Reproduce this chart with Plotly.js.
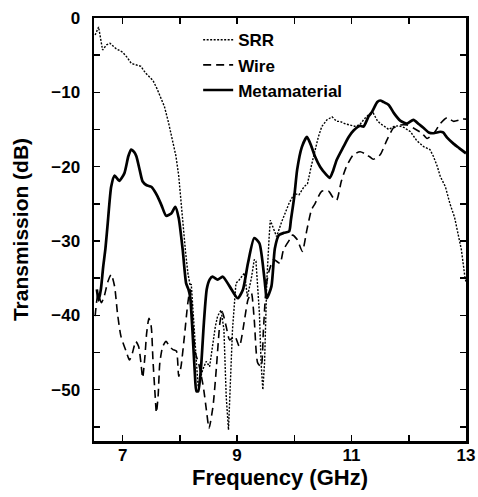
<!DOCTYPE html>
<html>
<head>
<meta charset="utf-8">
<script src="https://cdn.plot.ly/plotly-3.0.1.min.js"></script>
<style>html,body{margin:0;padding:0;background:#fff;}#chart{width:478px;height:497px;}</style>
</head>
<body>
<div id="chart"></div>
<script>
// ---- data ----
const seriesNames = ["SRR", "Wire", "Metamaterial"];

const srrFreq = [6.52,6.58,6.65,6.72,6.78,6.88,7.0,7.08,7.15,7.25,7.32,7.4,7.47,7.53,7.6,7.66,7.73,7.8,7.87,7.93,7.98,8.05,8.1,8.14,8.18,8.2,8.23,8.26,8.29,8.32,8.36,8.4,8.46,8.52,8.57,8.62,8.66,8.72,8.77,8.81,8.85,8.89,8.92,8.98,9.04,9.13,9.18,9.25,9.3,9.33,9.39,9.42,9.45,9.48,9.52,9.56,9.58,9.63,9.69,9.78,9.85,9.91,10.0,10.08,10.17,10.23,10.3,10.36,10.42,10.48,10.57,10.66,10.74,10.8,10.88,10.97,11.07,11.15,11.22,11.3,11.38,11.45,11.5,11.58,11.65,11.74,11.82,11.91,12.03,12.14,12.26,12.37,12.43,12.5,12.55,12.64,12.72,12.8,12.86,12.92,12.98,13.0];
const srrDb = [-2.3,-1.2,-4.3,-3.6,-3.4,-4.1,-4.6,-5.3,-6.1,-6.3,-6.5,-7.4,-8.0,-8.4,-9.5,-10.6,-11.9,-14.0,-16.2,-18.5,-21.2,-27.6,-31.5,-34.3,-36.0,-35.8,-39.7,-43.0,-46.4,-49.6,-48.5,-47.3,-46.2,-46.9,-44.2,-41.5,-40.1,-39.3,-41.9,-50.9,-55.4,-48.7,-41.9,-35.7,-35.2,-34.3,-37.5,-35.0,-32.5,-32.7,-39.7,-46.4,-50.0,-46.4,-35.2,-29.5,-27.2,-28.2,-29.4,-27.4,-26.0,-24.9,-23.6,-23.8,-22.7,-22.3,-19.8,-17.8,-16.0,-14.6,-13.7,-13.3,-13.9,-13.9,-14.2,-14.4,-14.6,-14.3,-13.6,-13.0,-12.8,-13.8,-14.2,-14.6,-15.0,-14.6,-14.5,-14.7,-15.3,-16.5,-17.3,-17.7,-18.6,-20.0,-21.3,-22.7,-25.0,-26.8,-28.9,-31.2,-34.8,-35.5];

const wireFreq = [6.52,6.57,6.63,6.68,6.74,6.8,6.86,6.91,6.97,7.06,7.12,7.17,7.23,7.28,7.32,7.35,7.39,7.42,7.46,7.5,7.53,7.57,7.59,7.62,7.65,7.7,7.76,7.82,7.88,7.94,7.98,8.02,8.08,8.14,8.18,8.22,8.27,8.33,8.41,8.47,8.51,8.58,8.64,8.7,8.74,8.81,8.87,8.96,9.04,9.13,9.19,9.25,9.3,9.36,9.42,9.46,9.51,9.56,9.64,9.75,9.81,9.92,9.97,10.05,10.14,10.22,10.3,10.36,10.48,10.6,10.68,10.74,10.82,10.91,11.03,11.15,11.27,11.38,11.5,11.62,11.73,11.85,11.97,12.08,12.23,12.32,12.44,12.55,12.67,12.78,12.94,13.0];
const wireDb = [-40.1,-37.2,-38.3,-37.4,-35.5,-34.5,-36.1,-39.7,-42.8,-44.8,-46.0,-45.1,-43.5,-44.2,-46.4,-48.4,-45.5,-42.4,-40.4,-41.5,-46.0,-51.0,-53.1,-50.9,-46.4,-44.2,-43.5,-44.2,-44.6,-44.8,-48.2,-46.9,-42.8,-38.3,-36.5,-40.0,-45.0,-46.5,-49.6,-53.1,-55.2,-52.2,-46.9,-41.0,-39.5,-41.5,-43.3,-42.8,-44.2,-40.6,-37.9,-37.0,-40.6,-46.4,-46.9,-42.0,-36.0,-34.0,-32.5,-33.0,-31.2,-29.8,-29.2,-29.8,-31.4,-28.5,-25.8,-25.0,-23.3,-23.3,-24.2,-24.5,-22.0,-20.0,-18.4,-18.0,-18.4,-19.0,-18.4,-16.4,-14.8,-14.4,-14.4,-14.8,-15.5,-16.2,-15.5,-14.2,-13.4,-13.9,-13.6,-13.6];

const metaFreq = [6.55,6.58,6.62,6.66,6.7,6.74,6.8,6.86,6.94,7.03,7.1,7.15,7.2,7.24,7.3,7.35,7.42,7.5,7.56,7.61,7.68,7.76,7.85,7.92,7.98,8.05,8.11,8.15,8.18,8.22,8.26,8.29,8.32,8.37,8.42,8.47,8.52,8.57,8.66,8.75,8.87,9.01,9.1,9.19,9.3,9.39,9.48,9.52,9.6,9.66,9.73,9.82,9.91,9.94,10.0,10.05,10.13,10.22,10.3,10.36,10.45,10.55,10.62,10.68,10.74,10.86,10.95,11.04,11.15,11.21,11.3,11.36,11.45,11.5,11.56,11.65,11.74,11.85,11.97,12.08,12.18,12.26,12.35,12.43,12.55,12.6,12.67,12.78,12.88,13.0];
const metaDb = [-36.5,-38.0,-36.5,-33.5,-31.0,-27.6,-22.7,-21.2,-21.9,-20.9,-18.6,-17.7,-18.0,-18.6,-20.5,-22.0,-22.5,-22.7,-23.3,-24.0,-25.2,-26.6,-26.3,-25.4,-26.9,-31.2,-35.7,-36.5,-37.5,-42.0,-47.5,-50.2,-50.2,-47.0,-41.0,-36.5,-35.2,-34.8,-35.2,-34.8,-36.1,-37.7,-36.6,-33.0,-29.6,-30.3,-35.2,-37.7,-36.1,-31.0,-29.2,-28.9,-28.7,-27.2,-24.0,-20.4,-17.4,-16.0,-17.3,-18.6,-20.0,-21.0,-21.5,-20.5,-19.1,-17.3,-16.0,-15.1,-14.5,-14.6,-13.2,-12.6,-11.3,-11.1,-11.3,-11.7,-12.8,-13.8,-14.2,-13.7,-14.3,-14.8,-15.4,-15.5,-15.3,-15.4,-16.1,-16.9,-17.5,-18.2];

const xTickVals = [7, 8, 9, 10, 11, 12, 13];
const xTickText = ["7", "", "9", "", "11", "", "13"];
const yTickVals = [0, -5, -10, -15, -20, -25, -30, -35, -40, -45, -50, -55];
const yTickText = ["0", "", "\u221210", "", "\u221220", "", "\u221230", "", "\u221240", "", "\u221250", ""];

const xTitle = "Frequency (GHz)";
const yTitle = "Transmission (dB)";

// ---- chart ----
const FONT = "Liberation Sans, Arial, Helvetica, sans-serif";
const traces = [
  {x: srrFreq, y: srrDb, name: seriesNames[0], mode: "lines",
   line: {color: "#000", width: 1.4, dash: "2px,1.5px"}},
  {x: wireFreq, y: wireDb, name: seriesNames[1], mode: "lines",
   line: {color: "#000", width: 1.6, dash: "8px,5px", shape: "spline", smoothing: 0.6}},
  {x: metaFreq, y: metaDb, name: seriesNames[2], mode: "lines",
   line: {color: "#000", width: 2.7, shape: "spline", smoothing: 0.6}}
];

const axisCommon = {
  showline: true, mirror: "ticks", linecolor: "#000", linewidth: 2.5,
  ticks: "inside", ticklen: 6, tickwidth: 1.5, tickcolor: "#000",
  showgrid: false, zeroline: false,
  tickfont: {family: FONT, size: 17, color: "#000", weight: "bold"}
};

const layout = {
  width: 478, height: 497,
  margin: {l: 94, r: 12, t: 18, b: 56},
  paper_bgcolor: "#fff", plot_bgcolor: "#fff",
  font: {family: FONT, color: "#000", weight: "bold"},
  showlegend: true,
  legend: {x: 0.28, y: 0.99, xanchor: "left", yanchor: "top",
           bgcolor: "rgba(0,0,0,0)", borderwidth: 0, tracegroupgap: 0,
           font: {family: FONT, size: 17, color: "#000", weight: "bold"}},
  xaxis: Object.assign({}, axisCommon, {
    range: [6.5, 13], tickmode: "array", tickvals: xTickVals, ticktext: xTickText,
    ticklabelstandoff: -3,
    title: {text: xTitle, standoff: 6, font: {family: FONT, size: 22, color: "#000", weight: "bold"}}
  }),
  yaxis: Object.assign({}, axisCommon, {
    range: [-56.9, 0], tickmode: "array", tickvals: yTickVals, ticktext: yTickText,
    ticklabelstandoff: 8,
    title: {text: yTitle, standoff: 17, font: {family: FONT, size: 21, color: "#000", weight: "bold"}}
  })
};

Plotly.newPlot("chart", traces, layout, {displayModeBar: false, staticPlot: true});
</script>
</body>
</html>
